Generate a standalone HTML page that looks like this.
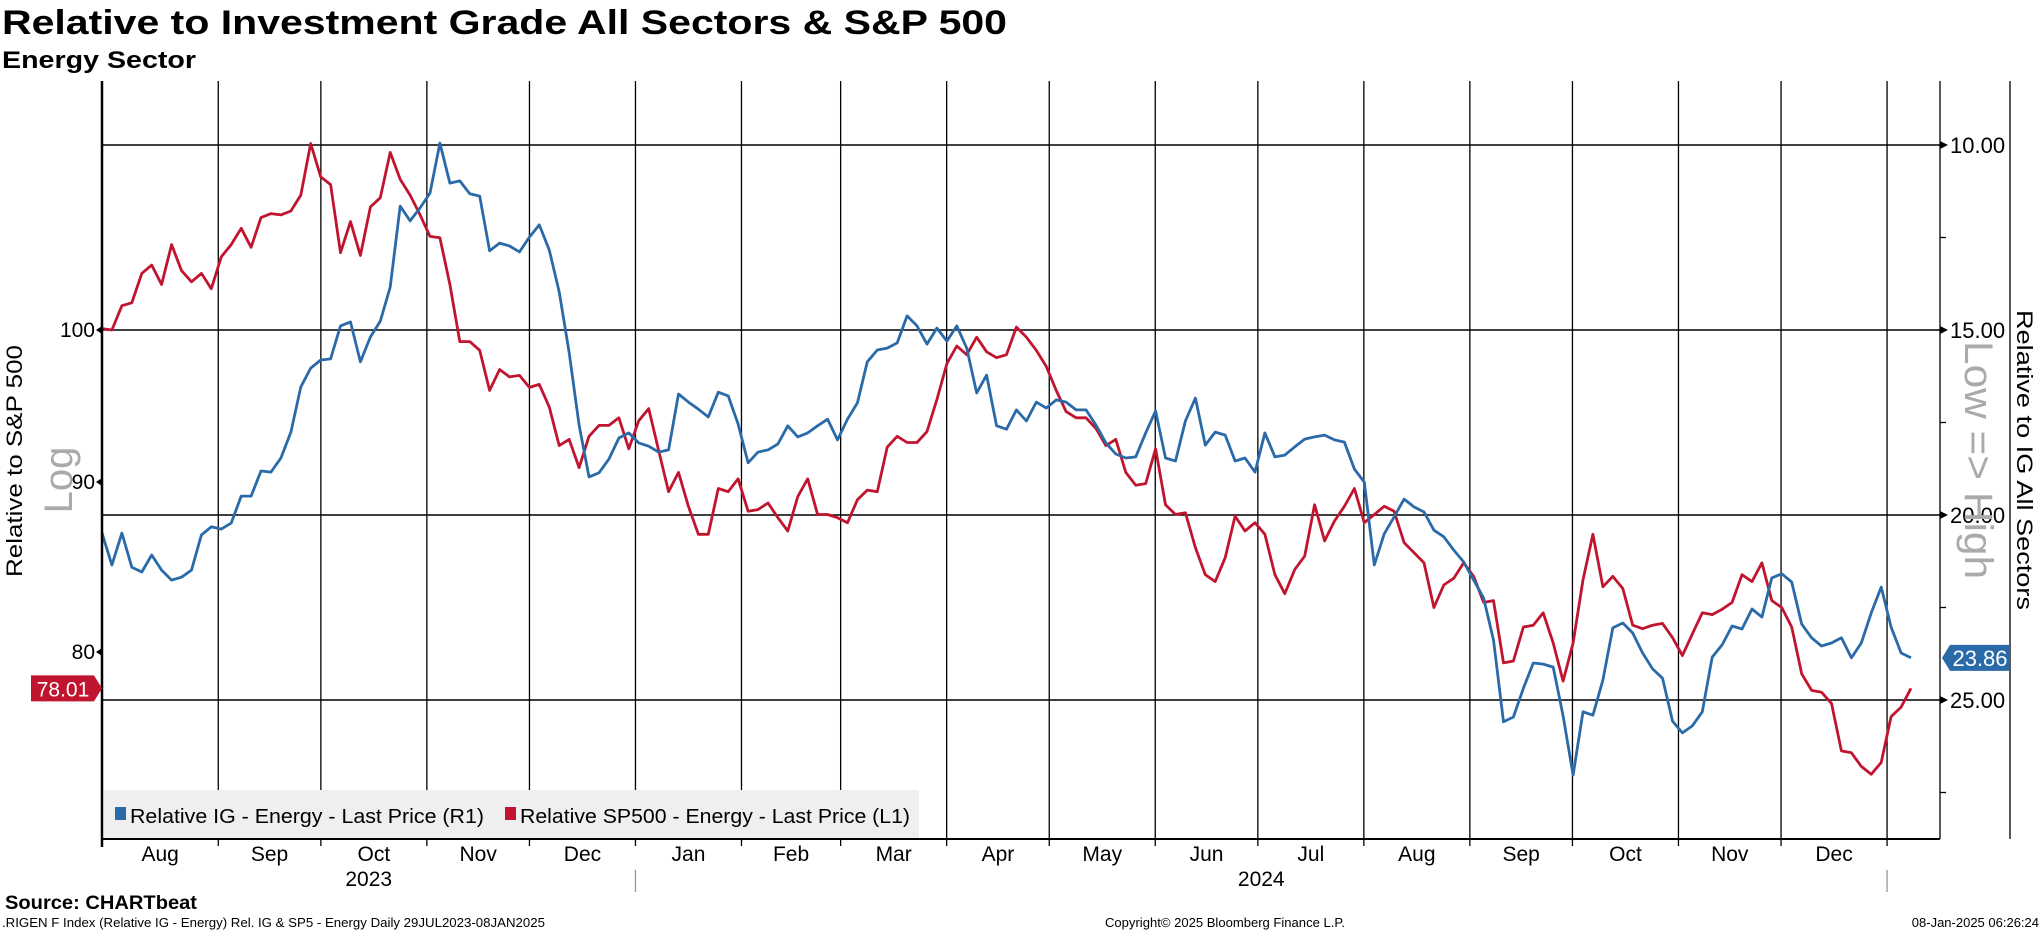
<!DOCTYPE html>
<html><head><meta charset="utf-8"><style>
html,body{margin:0;padding:0;background:#fff;}
svg{display:block;font-family:"Liberation Sans","DejaVu Sans",sans-serif;}
</style></head><body>
<svg id="chart" width="2041" height="932" viewBox="0 0 2041 932" xmlns="http://www.w3.org/2000/svg">
<text x="2" y="34" font-size="34" font-weight="bold" textLength="1005" lengthAdjust="spacingAndGlyphs">Relative to Investment Grade All Sectors &amp; S&amp;P 500</text>
<text x="2" y="68" font-size="24" font-weight="bold" textLength="194" lengthAdjust="spacingAndGlyphs">Energy Sector</text>
<g id="grid"></g>
<g id="series"></g>
<g id="axes"></g>
<rect x="104" y="790" width="815" height="48" fill="#efefef"/>
<rect x="115" y="807" width="11" height="13" fill="#2a6aa8"/>
<text x="130" y="823" font-size="20" textLength="354" lengthAdjust="spacingAndGlyphs">Relative IG - Energy - Last Price (R1)</text>
<rect x="505" y="807" width="11" height="13" fill="#c0142f"/>
<text x="520" y="823" font-size="20" textLength="390" lengthAdjust="spacingAndGlyphs">Relative SP500 - Energy - Last Price (L1)</text>
<text transform="translate(22,461) rotate(-90)" text-anchor="middle" font-size="22" textLength="232" lengthAdjust="spacingAndGlyphs">Relative to S&amp;P 500</text>
<text transform="translate(72,480) rotate(-90)" text-anchor="middle" font-size="40" fill="#aaaaaa">Log</text>
<text transform="translate(2017,460) rotate(90)" text-anchor="middle" font-size="22" textLength="300" lengthAdjust="spacingAndGlyphs">Relative to IG All Sectors</text>
<text transform="translate(1965,460) rotate(90)" text-anchor="middle" font-size="40" fill="#aaaaaa" textLength="238" lengthAdjust="spacingAndGlyphs">Low =&gt; High</text>
<text x="5" y="909" font-size="19" font-weight="bold" textLength="192" lengthAdjust="spacingAndGlyphs">Source: CHARTbeat</text>
<text x="2" y="927" font-size="13" textLength="543" lengthAdjust="spacingAndGlyphs">.RIGEN F Index (Relative IG - Energy) Rel. IG &amp; SP5 - Energy  Daily 29JUL2023-08JAN2025</text>
<text x="1105" y="927" font-size="13" textLength="240" lengthAdjust="spacingAndGlyphs">Copyright© 2025 Bloomberg Finance L.P.</text>
<text x="2039" y="927" font-size="13" text-anchor="end">08-Jan-2025 06:26:24</text>
</svg>
<script>
const monthLabels=["Aug","Sep","Oct","Nov","Dec","Jan","Feb","Mar","Apr","May","Jun","Jul","Aug","Sep","Oct","Nov","Dec"];
const monthStartDays=[0,34,64,95,125,156,187,216,247,277,308,338,369,400,430,461,491,522,529];
const yearLabels=["2023","2024"];
const leftTicks=[80,90,100];
const rightTicks=[10,15,20,25];
const rightMinor=[12.5,17.5,22.5,27.5];
const sp500Values=[100.1,100.0,101.7,101.9,104.0,104.6,103.2,106.1,104.2,103.4,104.0,102.9,105.2,106.1,107.3,105.9,108.1,108.4,108.3,108.6,109.8,113.8,111.2,110.6,105.5,107.8,105.3,108.9,109.6,113.1,111.0,109.8,108.3,106.7,106.6,103.2,99.2,99.2,98.6,95.9,97.3,96.8,96.9,96.1,96.3,94.8,
92.3,92.7,90.9,92.9,93.6,93.6,94.1,92.1,93.9,94.7,92.0,89.4,90.6,88.5,86.8,86.8,89.6,89.4,90.2,88.2,88.3,88.7,87.8,87.0,89.1,90.2,88.0,88.0,87.8,87.5,88.9,89.5,89.4,92.2,92.9,92.5,92.5,93.2,95.3,97.7,98.9,98.3,99.5,98.5,98.1,98.3,
100.2,99.5,98.6,97.5,95.9,94.5,94.1,94.1,93.4,92.3,92.7,90.6,89.8,89.9,
92.1,88.6,88.0,88.1,86.0,84.4,84.0,85.4,87.9,87.0,87.5,86.8,84.4,83.3,84.7,85.5,88.6,86.4,87.6,88.5,89.6,87.5,88.0,88.5,88.2,86.3,85.7,85.1,82.5,83.8,84.2,85.1,84.3,82.8,82.9,79.4,79.5,81.4,81.5,82.2,80.5,
78.4,80.5,84.1,86.8,83.7,84.3,83.6,81.5,81.3,81.5,81.6,80.8,79.8,81.0,82.2,82.1,82.4,82.8,84.4,84.0,85.1,
82.9,82.5,81.4,78.8,77.9,77.8,77.2,74.7,74.6,73.9,73.5,74.1,76.5,77.0,78.01];
const igValues=[20.49,21.35,20.49,21.41,21.54,21.08,21.49,21.76,21.68,21.49,20.54,20.32,20.38,20.22,19.49,19.49,18.81,18.84,18.46,17.76,16.54,16.03,15.81,15.78,14.89,14.78,15.86,15.19,14.76,13.84,11.65,12.05,11.70,11.30,9.95,11.03,10.97,11.32,11.38,12.86,12.65,12.73,12.89,12.49,12.16,12.84,
13.97,15.62,17.57,18.97,18.86,18.49,17.92,17.78,18.05,18.14,18.30,18.24,16.73,16.95,17.14,17.35,16.68,16.78,17.54,18.59,18.30,18.24,18.08,17.59,17.89,17.78,17.59,17.41,17.97,17.41,16.97,15.86,15.54,15.49,15.35,14.62,14.89,15.38,14.95,15.30,14.89,15.49,16.70,16.22,17.59,17.68,
17.16,17.46,16.95,17.11,16.89,16.95,17.16,17.16,17.57,18.05,18.35,18.46,18.43,17.78,
17.19,18.46,18.54,17.46,16.84,18.11,17.76,17.84,18.54,18.46,18.84,17.78,18.43,18.38,18.16,17.95,17.89,17.84,17.97,18.03,18.76,19.11,21.35,20.51,20.05,19.57,19.78,19.92,20.41,20.59,20.95,21.27,21.76,22.24,23.38,25.59,25.46,24.68,24.00,24.03,24.11,
25.43,27.03,25.32,25.41,24.46,23.05,22.92,23.19,23.73,24.16,24.41,25.57,25.89,25.70,25.32,23.84,23.51,23.00,23.08,22.54,22.76,
21.70,21.59,21.81,22.95,23.32,23.54,23.46,23.32,23.86,23.46,22.65,21.95,23.03,23.73,23.86];

const NS="http://www.w3.org/2000/svg";
const PL=102,PR=1940,PT=81,PB=839,DX0=102,DX1=1911,TOTALDAYS=529;
function xDay(d){return DX0+(DX1-DX0)*d/TOTALDAYS;}
function xIdx(i,n){return DX0+(DX1-DX0)*i/(n-1);}
function yLeft(v){return 330+1443*Math.log(100/v);}
function yRight(v){return 145+(v-10)*37.0;}
function mk(tag,attrs,parent){const e=document.createElementNS(NS,tag);for(const k in attrs)e.setAttribute(k,attrs[k]);parent.appendChild(e);return e;}
const grid=document.getElementById('grid'),axes=document.getElementById('axes'),series=document.getElementById('series');

rightTicks.forEach(v=>{const l=mk('line',{x1:PL,x2:PR,y1:yRight(v),y2:yRight(v),stroke:'#000','stroke-width':1.5},grid);

});
for(let i=1;i<monthStartDays.length-1;i++){const x=xDay(monthStartDays[i]);
const l=mk('line',{x1:x,x2:x,y1:PT,y2:PB,stroke:'#000','stroke-width':1.3},grid);


const t=mk('line',{x1:x,x2:x,y1:PB,y2:PB+7,stroke:'#000','stroke-width':1.3},axes);

}
for(let i=0;i<monthLabels.length;i++){const a=xDay(monthStartDays[i]),b=xDay(monthStartDays[i+1]);
const t=mk('text',{x:(a+b)/2,y:861,'font-size':21,'text-anchor':'middle'},axes);t.textContent=monthLabels[i];

}
const yStart=[0,monthStartDays[5]],yEnd=[monthStartDays[5],monthStartDays[17]];
yearLabels.forEach((y,i)=>{const t=mk('text',{x:(xDay(yStart[i])+xDay(yEnd[i]))/2,y:886,'font-size':21,'text-anchor':'middle'},axes);t.textContent=y;

});
[xDay(monthStartDays[5]),xDay(monthStartDays[17])].forEach(x=>{const l=mk('line',{x1:x,x2:x,y1:870,y2:892,stroke:'#999','stroke-width':1.3},axes);

});
let a1=mk('line',{x1:PL,x2:PL,y1:PT,y2:PB+8,stroke:'#000','stroke-width':2.5},axes);


let a2=mk('line',{x1:PR,x2:PR,y1:PT,y2:PB,stroke:'#000','stroke-width':1.3},axes);


let a3=mk('line',{x1:PL,x2:PR,y1:PB,y2:PB,stroke:'#000','stroke-width':2},axes);


let a4=mk('line',{x1:2010,x2:2010,y1:PT,y2:PB,stroke:'#000','stroke-width':1.3},axes);


leftTicks.forEach(v=>{const y=yLeft(v);
const p=mk('path',{d:`M${PL} ${y-4} L${PL-6} ${y} L${PL} ${y+4}Z`,fill:'#000'},axes);


const t=mk('text',{x:PL-7,y:y+7,'font-size':21,'text-anchor':'end'},axes);t.textContent=String(v);

});
rightTicks.forEach(v=>{const y=yRight(v);
const p=mk('path',{d:`M${PR} ${y-4} L${PR+8} ${y} L${PR} ${y+4}Z`,fill:'#000'},axes);


const t=mk('text',{x:PR+10,y:y+8,'font-size':22},axes);t.textContent=v.toFixed(2);

});
rightMinor.forEach(v=>{const y=yRight(v);if(y>PB)return;
const l=mk('line',{x1:PR,x2:PR+6,y1:y,y2:y,stroke:'#000','stroke-width':1.3},axes);

});
function drawLine(vals,yf,color,name){const n=vals.length;let d='';
vals.forEach((v,i)=>{d+=(i?'L':'M')+xIdx(i,n).toFixed(1)+' '+yf(v).toFixed(1);});
const p=mk('path',{d:d,fill:'none',stroke:color,'stroke-width':2.8,'stroke-linejoin':'round'},series);

}
drawLine(sp500Values,yLeft,'#c0142f','sp500-line');
drawLine(igValues,yRight,'#2a6aa8','ig-line');
const lastSp=sp500Values[sp500Values.length-1],lastIg=igValues[igValues.length-1];
const ys=yLeft(lastSp);
const g1=mk('path',{d:`M31 ${ys-13} L94 ${ys-13} L102 ${ys} L94 ${ys+13} L31 ${ys+13}Z`,fill:'#c0142f'},axes);


const t1=mk('text',{x:63,y:ys+8,'font-size':21,'text-anchor':'middle',fill:'#fff'},axes);t1.textContent=lastSp.toFixed(2);


const yi=yRight(lastIg);
const g2=mk('path',{d:`M1942 ${yi} L1950 ${yi-13} L2009 ${yi-13} L2009 ${yi+13} L1950 ${yi+13}Z`,fill:'#2a6aa8'},axes);


const t2=mk('text',{x:1980,y:yi+8,'font-size':22,'text-anchor':'middle',fill:'#fff'},axes);t2.textContent=lastIg.toFixed(2);


</script>
</body></html>
